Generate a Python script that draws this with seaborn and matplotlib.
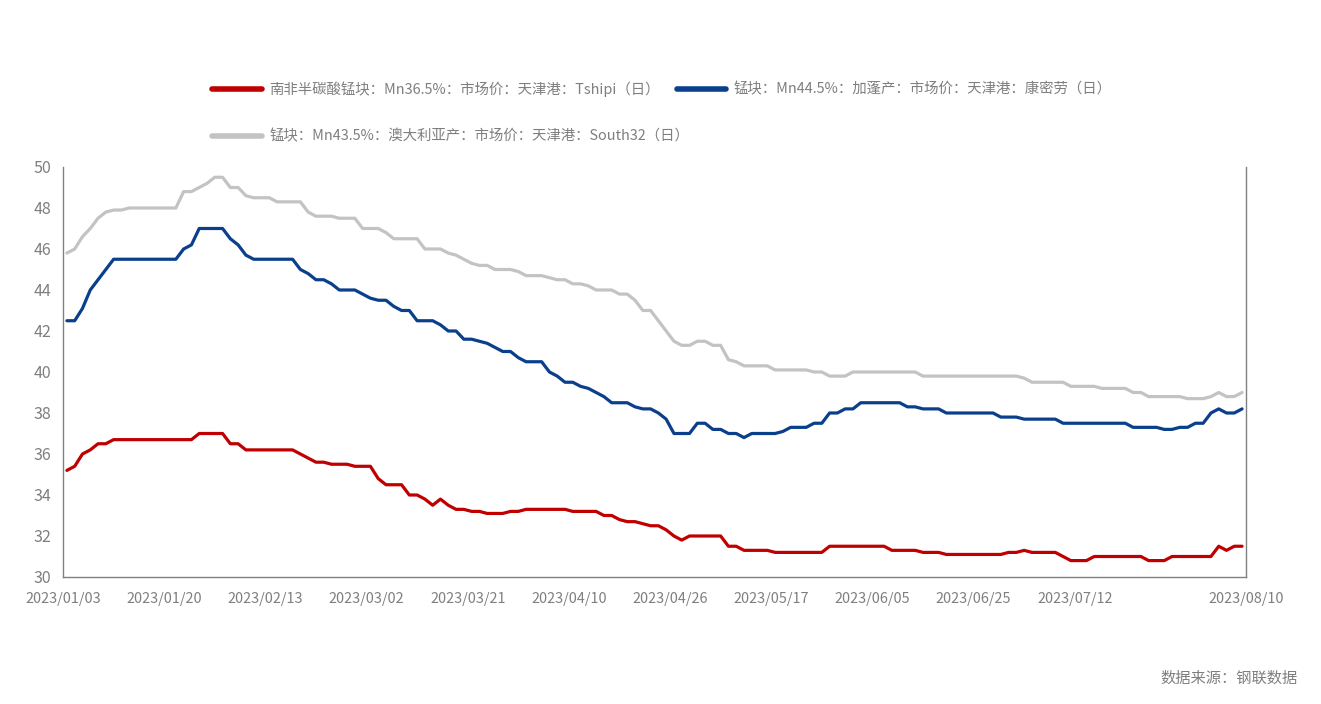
import matplotlib
matplotlib.use("Agg")
import matplotlib.pyplot as plt
import seaborn as sns
import pandas as pd

# daily prices, 2023/01/03 .. 2023/08/10 (trading days)
tshipi = [
    35.2, 35.4, 36.0, 36.2, 36.5, 36.5, 36.7, 36.7, 36.7, 36.7,
    36.7, 36.7, 36.7, 36.7, 36.7, 36.7, 36.7, 37.0, 37.0, 37.0,
    37.0, 36.5, 36.5, 36.2, 36.2, 36.2, 36.2, 36.2, 36.2, 36.2,
    36.0, 35.8, 35.6, 35.6, 35.5, 35.5, 35.5, 35.4, 35.4, 35.4,
    34.8, 34.5, 34.5, 34.5, 34.0, 34.0, 33.8, 33.5, 33.8, 33.5,
    33.3, 33.3, 33.2, 33.2, 33.1, 33.1, 33.1, 33.2, 33.2, 33.3,
    33.3, 33.3, 33.3, 33.3, 33.3, 33.2, 33.2, 33.2, 33.2, 33.0,
    33.0, 32.8, 32.7, 32.7, 32.6, 32.5, 32.5, 32.3, 32.0, 31.8,
    32.0, 32.0, 32.0, 32.0, 32.0, 31.5, 31.5, 31.3, 31.3, 31.3,
    31.3, 31.2, 31.2, 31.2, 31.2, 31.2, 31.2, 31.2, 31.5, 31.5,
    31.5, 31.5, 31.5, 31.5, 31.5, 31.5, 31.3, 31.3, 31.3, 31.3,
    31.2, 31.2, 31.2, 31.1, 31.1, 31.1, 31.1, 31.1, 31.1, 31.1,
    31.1, 31.2, 31.2, 31.3, 31.2, 31.2, 31.2, 31.2, 31.0, 30.8,
    30.8, 30.8, 31.0, 31.0, 31.0, 31.0, 31.0, 31.0, 31.0, 30.8,
    30.8, 30.8, 31.0, 31.0, 31.0, 31.0, 31.0, 31.0, 31.5, 31.3,
    31.5, 31.5,
]
gabon = [
    42.5, 42.5, 43.1, 44.0, 44.5, 45.0, 45.5, 45.5, 45.5, 45.5,
    45.5, 45.5, 45.5, 45.5, 45.5, 46.0, 46.2, 47.0, 47.0, 47.0,
    47.0, 46.5, 46.2, 45.7, 45.5, 45.5, 45.5, 45.5, 45.5, 45.5,
    45.0, 44.8, 44.5, 44.5, 44.3, 44.0, 44.0, 44.0, 43.8, 43.6,
    43.5, 43.5, 43.2, 43.0, 43.0, 42.5, 42.5, 42.5, 42.3, 42.0,
    42.0, 41.6, 41.6, 41.5, 41.4, 41.2, 41.0, 41.0, 40.7, 40.5,
    40.5, 40.5, 40.0, 39.8, 39.5, 39.5, 39.3, 39.2, 39.0, 38.8,
    38.5, 38.5, 38.5, 38.3, 38.2, 38.2, 38.0, 37.7, 37.0, 37.0,
    37.0, 37.5, 37.5, 37.2, 37.2, 37.0, 37.0, 36.8, 37.0, 37.0,
    37.0, 37.0, 37.1, 37.3, 37.3, 37.3, 37.5, 37.5, 38.0, 38.0,
    38.2, 38.2, 38.5, 38.5, 38.5, 38.5, 38.5, 38.5, 38.3, 38.3,
    38.2, 38.2, 38.2, 38.0, 38.0, 38.0, 38.0, 38.0, 38.0, 38.0,
    37.8, 37.8, 37.8, 37.7, 37.7, 37.7, 37.7, 37.7, 37.5, 37.5,
    37.5, 37.5, 37.5, 37.5, 37.5, 37.5, 37.5, 37.3, 37.3, 37.3,
    37.3, 37.2, 37.2, 37.3, 37.3, 37.5, 37.5, 38.0, 38.2, 38.0,
    38.0, 38.2,
]
south32 = [
    45.8, 46.0, 46.6, 47.0, 47.5, 47.8, 47.9, 47.9, 48.0, 48.0,
    48.0, 48.0, 48.0, 48.0, 48.0, 48.8, 48.8, 49.0, 49.2, 49.5,
    49.5, 49.0, 49.0, 48.6, 48.5, 48.5, 48.5, 48.3, 48.3, 48.3,
    48.3, 47.8, 47.6, 47.6, 47.6, 47.5, 47.5, 47.5, 47.0, 47.0,
    47.0, 46.8, 46.5, 46.5, 46.5, 46.5, 46.0, 46.0, 46.0, 45.8,
    45.7, 45.5, 45.3, 45.2, 45.2, 45.0, 45.0, 45.0, 44.9, 44.7,
    44.7, 44.7, 44.6, 44.5, 44.5, 44.3, 44.3, 44.2, 44.0, 44.0,
    44.0, 43.8, 43.8, 43.5, 43.0, 43.0, 42.5, 42.0, 41.5, 41.3,
    41.3, 41.5, 41.5, 41.3, 41.3, 40.6, 40.5, 40.3, 40.3, 40.3,
    40.3, 40.1, 40.1, 40.1, 40.1, 40.1, 40.0, 40.0, 39.8, 39.8,
    39.8, 40.0, 40.0, 40.0, 40.0, 40.0, 40.0, 40.0, 40.0, 40.0,
    39.8, 39.8, 39.8, 39.8, 39.8, 39.8, 39.8, 39.8, 39.8, 39.8,
    39.8, 39.8, 39.8, 39.7, 39.5, 39.5, 39.5, 39.5, 39.5, 39.3,
    39.3, 39.3, 39.3, 39.2, 39.2, 39.2, 39.2, 39.0, 39.0, 38.8,
    38.8, 38.8, 38.8, 38.8, 38.7, 38.7, 38.7, 38.8, 39.0, 38.8,
    38.8, 39.0,
]

names = [
    "南非半碳酸锰块：Mn36.5%：市场价：天津港：Tshipi（日）",
    "锰块：Mn44.5%：加蓬产：市场价：天津港：康密劳（日）",
    "锰块：Mn43.5%：澳大利亚产：市场价：天津港：South32（日）",
]
colors = ["#C00000", "#0A3F8C", "#C3C3C3"]
tick_dates = ["2023/01/03", "2023/01/20", "2023/02/13", "2023/03/02", "2023/03/21",
              "2023/04/10", "2023/04/26", "2023/05/17", "2023/06/05", "2023/06/25",
              "2023/07/12", "", "2023/08/10"]

sns.set_style("white")
plt.rcParams["font.family"] = ["Liberation Sans Narrow", "Noto Sans CJK SC", "DejaVu Sans"]

df = pd.DataFrame({"idx": range(len(tshipi)), names[0]: tshipi,
                   names[1]: gabon, names[2]: south32})

fig = plt.figure(figsize=(13.21, 7.04), dpi=100)
ax = fig.add_axes([0.0477, 0.1804, 0.8955, 0.5824])

for name, col in zip(names, colors):
    sns.lineplot(data=df, x="idx", y=name, color=col, linewidth=2.3, label=name, ax=ax)

n = len(tshipi)
ax.set_xlim(-0.5, n - 0.5)
ax.set_ylim(30, 50)
ax.set_yticks(range(30, 51, 2))
xt = [13 * k - 0.5 for k in range(12)] + [n - 0.5]
ax.set_xticks(xt)
ax.set_xticklabels(tick_dates)
ax.set_xlabel("")
ax.set_ylabel("")

grey = "#808080"
for s in ["left", "bottom", "right"]:
    ax.spines[s].set_color(grey)
    ax.spines[s].set_linewidth(1.0)
ax.spines["top"].set_visible(False)
ax.tick_params(axis="both", colors=grey, labelcolor="#7F7F7F", labelsize=11.5,
               direction="out", length=5, width=1)
ax.tick_params(axis="x", length=6, pad=5, labelsize=10.4)

ax.get_legend().remove()
h, l = ax.get_legend_handles_labels()
leg_kw = dict(loc="center left", frameon=False, fontsize=10.4, handlelength=3.4,
              handletextpad=0.55, labelcolor="#7F7F7F")
# top row: red + blue, second row: grey
leg1 = fig.legend(h[:2], l[:2], ncol=2, columnspacing=1.15,
                  bbox_to_anchor=(0.151, 1 - 89 / 704), **leg_kw)
leg2 = fig.legend(h[2:], l[2:], ncol=1,
                  bbox_to_anchor=(0.151, 1 - 136.5 / 704), **leg_kw)
for lg in (leg1, leg2):
    for line in lg.get_lines():
        line.set_linewidth(4)

fig.text(0.982, 0.037, "数据来源：钢联数据", ha="right", va="center",
         fontsize=11, color="#7F7F7F")

fig.savefig("out.png", dpi=100)
